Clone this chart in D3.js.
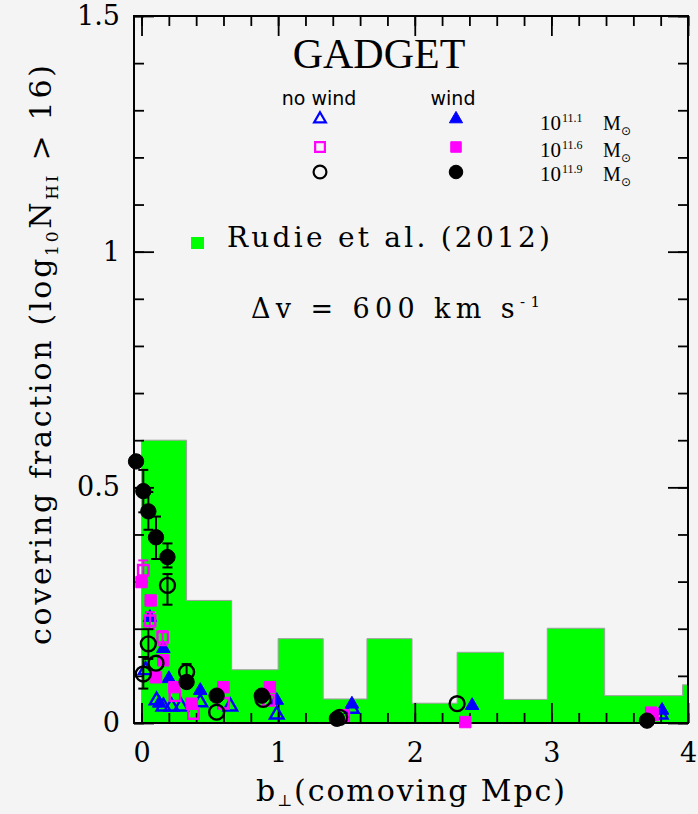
<!DOCTYPE html>
<html>
<head>
<meta charset="utf-8">
<script src="https://cdn.jsdelivr.net/npm/d3@7"></script>
<style>
  body { margin: 0; background: #f4f4f4; }
  svg text { font-family: "DejaVu Serif", serif; fill: #000; }
</style>
</head>
<body>
<svg id="chart"></svg>
<script>
// Rudie et al. (2012) histogram: bin edges (comoving Mpc) and covering fraction
var binEdges = [0, 0.33, 0.66, 1.0, 1.33, 1.65, 1.98, 2.31, 2.65, 2.97, 3.39, 3.96, 4.0];
var rudieFrac = [0.60, 0.26, 0.113, 0.179, 0.051, 0.179, 0.042, 0.150, 0.050, 0.201, 0.058, 0.081];

// GADGET points: [b, fraction, errLow, errHigh]
var noWind111 = [[0.03, 0.112], [0.11, 0.048], [0.16, 0.035], [0.22, 0.035], [0.29, 0.035],
                 [0.43, 0.044], [0.65, 0.035], [0.99, 0.018], [1.54, 0.030], [3.80, 0.018]];
var wind111 = [[0.062, 0.224], [0.16, 0.158], [0.20, 0.094], [0.13, 0.042], [0.43, 0.069],
               [0.99, 0.048], [1.54, 0.040], [2.42, 0.037], [3.81, 0.027]];
var noWind116 = [[0.013, 0.324, 0.300, 0.345], [0.062, 0.217, 0.200, 0.235], [0.155, 0.182, 0.165, 0.195],
                 [0.245, 0.058], [0.38, 0.020], [0.60, 0.042], [0.93, 0.048], [1.48, 0.016], [3.74, 0.018]];
var wind116 = [[0.0, 0.299], [0.067, 0.26], [0.16, 0.133], [0.106, 0.097], [0.24, 0.076],
               [0.367, 0.041], [0.60, 0.076], [0.94, 0.076], [2.37, 0.002], [3.73, 0.022]];
var noWind119 = [[0.19, 0.292, 0.251, 0.316], [0.05, 0.168, 0.136, 0.199], [0.106, 0.127],
                 [0.013, 0.104, 0.073, 0.140], [0.33, 0.108, 0.098, 0.125], [0.55, 0.023],
                 [0.89, 0.050], [1.45, 0.012], [2.31, 0.041]];
var wind119 = [[-0.04, 0.555], [0.013, 0.492, 0.447, 0.537], [0.05, 0.449, 0.41, 0.49],
               [0.106, 0.394, 0.348, 0.438], [0.19, 0.352, 0.33, 0.381], [0.33, 0.087],
               [0.55, 0.058], [0.88, 0.058], [1.43, 0.009], [3.70, 0.005]];

var xMajor = [0, 1, 2, 3, 4];
var xMinor = d3.range(0, 4.01, 0.2);
var yMajor = [0, 0.5, 1, 1.5];
var yMinor = d3.range(0, 1.51, 0.1);
var massLabels = ["11.1", "11.6", "11.9"];

var svgWidth = 698;
var svgHeight = 814;
var plot = { left: 134, right: 688, top: 16, bottom: 723 };

var svg = d3.select("#chart")
    .attr("width", svgWidth)
    .attr("height", svgHeight);

var x = d3.scaleLinear().domain([-0.055, 4.0]).range([plot.left, plot.right]);
var y = d3.scaleLinear().domain([0, 1.5]).range([plot.bottom, plot.top]);

// green histogram
var bins = rudieFrac.map(function (f, i) { return { x0: binEdges[i], x1: binEdges[i + 1], f: f }; });
var step = [[bins[0].x0, 0]];
bins.forEach(function (d) { step.push([d.x0, d.f]); step.push([d.x1, d.f]); });
step.push([bins[bins.length - 1].x1, 0]);

svg.append("path")
    .datum(step)
    .attr("d", d3.line().x(d => x(d[0])).y(d => y(d[1])))
    .attr("fill", "#00ff00")
    .attr("stroke", "#a0a0a0")
    .attr("stroke-width", 1);

// axes / frame ticks
function styleAxis(g) {
    g.select(".domain").remove();
    g.selectAll("line").attr("stroke", "#000").attr("stroke-width", 1.8);
    g.selectAll("text").attr("font-family", "DejaVu Serif").attr("font-size", 27).attr("fill", "#000");
}
var fmt = d3.format("~g");

svg.append("g").attr("transform", `translate(${plot.left},0)`)
    .call(d3.axisLeft(y).tickValues(yMajor).tickSize(-20).tickPadding(14).tickFormat(fmt)).call(styleAxis);
svg.append("g").attr("transform", `translate(${plot.left},0)`)
    .call(d3.axisLeft(y).tickValues(yMinor).tickSize(-10).tickFormat("")).call(styleAxis);
svg.append("g").attr("transform", `translate(${plot.right},0)`)
    .call(d3.axisRight(y).tickValues(yMajor).tickSize(-20).tickFormat("")).call(styleAxis);
svg.append("g").attr("transform", `translate(${plot.right},0)`)
    .call(d3.axisRight(y).tickValues(yMinor).tickSize(-10).tickFormat("")).call(styleAxis);

svg.append("g").attr("transform", `translate(0,${plot.bottom})`)
    .call(d3.axisBottom(x).tickValues(xMajor).tickSize(-20).tickPadding(20).tickFormat(fmt)).call(styleAxis);
svg.append("g").attr("transform", `translate(0,${plot.bottom})`)
    .call(d3.axisBottom(x).tickValues(xMinor).tickSize(-10).tickFormat("")).call(styleAxis);
svg.append("g").attr("transform", `translate(0,${plot.top})`)
    .call(d3.axisTop(x).tickValues(xMajor).tickSize(-20).tickFormat("")).call(styleAxis);
svg.append("g").attr("transform", `translate(0,${plot.top})`)
    .call(d3.axisTop(x).tickValues(xMinor).tickSize(-10).tickFormat("")).call(styleAxis);

svg.append("rect")
    .attr("x", plot.left).attr("y", plot.top)
    .attr("width", plot.right - plot.left).attr("height", plot.bottom - plot.top)
    .attr("fill", "none").attr("stroke", "#000").attr("stroke-width", 2);

// markers
var symTri = d3.symbol().type(d3.symbolTriangle);
var symSq = d3.symbol().type(d3.symbolSquare);
var symCirc = d3.symbol().type(d3.symbolCircle);

var series = [
    { data: noWind111, sym: symTri, size: 80, color: "#0000ff", filled: false },
    { data: wind111, sym: symTri, size: 80, color: "#0000ff", filled: true },
    { data: noWind116, sym: symSq, size: 110, color: "#ff00ff", filled: false },
    { data: wind116, sym: symSq, size: 130, color: "#ff00ff", filled: true },
    { data: noWind119, sym: symCirc, size: 175, color: "#000000", filled: false },
    { data: wind119, sym: symCirc, size: 185, color: "#000000", filled: true }
];

var pts = svg.append("g");
series.forEach(function (s) {
    var g = pts.append("g");
    var withErr = s.data.filter(d => d.length > 2);
    g.selectAll("line.err").data(withErr).enter().append("line")
        .attr("x1", d => x(d[0])).attr("x2", d => x(d[0]))
        .attr("y1", d => y(d[2])).attr("y2", d => y(d[3]))
        .attr("stroke", s.color).attr("stroke-width", 2);
    [2, 3].forEach(function (k) {
        g.selectAll("line.cap" + k).data(withErr).enter().append("line")
            .attr("x1", d => x(d[0]) - 5).attr("x2", d => x(d[0]) + 5)
            .attr("y1", d => y(d[k])).attr("y2", d => y(d[k]))
            .attr("stroke", s.color).attr("stroke-width", 2);
    });
    g.selectAll("path").data(s.data).enter().append("path")
        .attr("d", s.sym.size(s.size))
        .attr("transform", d => `translate(${x(d[0])},${y(d[1])})`)
        .attr("fill", s.filled ? s.color : "none")
        .attr("stroke", s.color)
        .attr("stroke-width", s.filled ? 1 : 2.4);
});

// title and legend
svg.append("text").attr("x", 379).attr("y", 68).attr("text-anchor", "middle")
    .style("font-family", "Liberation Serif")
    .attr("font-size", 42).text("GADGET");

svg.append("text").attr("x", 319).attr("y", 105).attr("text-anchor", "middle")
    .style("font-family", "DejaVu Sans").attr("font-size", 19).text("no wind");
svg.append("text").attr("x", 453).attr("y", 105).attr("text-anchor", "middle")
    .style("font-family", "DejaVu Sans").attr("font-size", 19).text("wind");

var legendRows = [
    { sym: symTri, size: 60, color: "#0000ff", my: 119, ty: 130 },
    { sym: symSq, size: 95, color: "#ff00ff", my: 147, ty: 157 },
    { sym: symCirc, size: 130, color: "#000000", my: 172, ty: 181 }
];
legendRows.forEach(function (r, i) {
    svg.append("path").attr("d", r.sym.size(r.size))
        .attr("transform", `translate(320,${r.my})`)
        .attr("fill", "none").attr("stroke", r.color).attr("stroke-width", 2.2);
    svg.append("path").attr("d", r.sym.size(r.size + 15))
        .attr("transform", `translate(456,${r.my})`)
        .attr("fill", r.color).attr("stroke", r.color).attr("stroke-width", 1);
    svg.append("text").attr("x", 540).attr("y", r.ty)
        .style("font-family", "Liberation Serif").attr("font-size", 21).text("10");
    svg.append("text").attr("x", 562).attr("y", r.ty - 8)
        .style("font-family", "Liberation Serif").attr("font-size", 12).text(massLabels[i]);
    svg.append("text").attr("x", 603).attr("y", r.ty)
        .style("font-family", "Liberation Serif").attr("font-size", 20).text("M");
    svg.append("text").attr("x", 621).attr("y", r.ty + 5)
        .style("font-family", "DejaVu Sans").attr("font-size", 12).text("\u2299");
});

svg.append("rect").attr("x", 191).attr("y", 237).attr("width", 13).attr("height", 12)
    .attr("fill", "#00ff00");
svg.append("text").attr("x", 227).attr("y", 247).attr("font-size", 28)
    .attr("textLength", 323).attr("lengthAdjust", "spacing").text("Rudie et al. (2012)");

var dv = svg.append("text").attr("x", 251).attr("y", 318).attr("font-size", 27)
    .attr("textLength", 289).attr("lengthAdjust", "spacing");
dv.append("tspan").text("\u0394v = 600 km s");
dv.append("tspan").attr("dy", -11).attr("font-size", 15).text("-1");

// axis titles
var xt = svg.append("text").attr("x", 256).attr("y", 801).attr("font-size", 30)
    .attr("textLength", 309).attr("lengthAdjust", "spacing");
xt.append("tspan").text("b");
xt.append("tspan").attr("dy", 5).attr("font-size", 16).text("\u22a5");
xt.append("tspan").attr("dy", -5).text("(comoving Mpc)");

var yt = svg.append("text")
    .attr("transform", "translate(51,645) rotate(-90)")
    .attr("font-size", 30)
    .attr("textLength", 580).attr("lengthAdjust", "spacing");
yt.append("tspan").text("covering fraction (log");
yt.append("tspan").attr("dy", 7).attr("font-size", 17).text("10");
yt.append("tspan").attr("dy", -7).text("N");
yt.append("tspan").attr("dy", 7).attr("font-size", 17).text("HI");
yt.append("tspan").attr("dy", -7).text(" > 16)");
</script>
</body>
</html>
